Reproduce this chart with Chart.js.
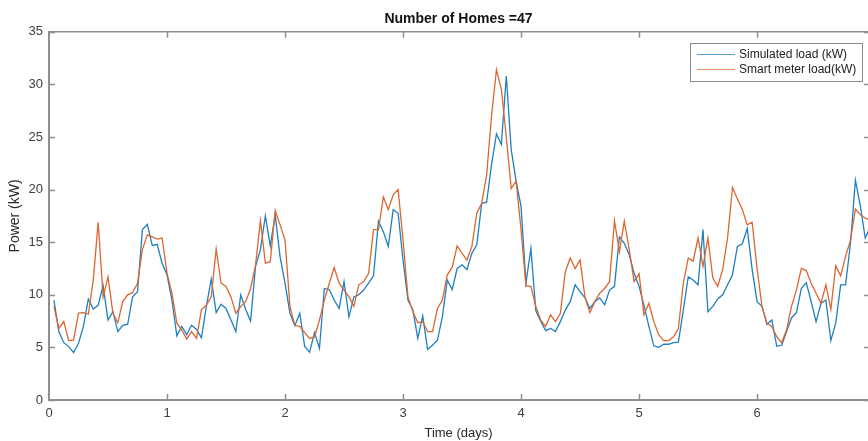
<!DOCTYPE html>
<html>
<head>
<meta charset="utf-8">
<title>Number of Homes =47</title>
<script src="https://cdn.jsdelivr.net/npm/chart.js@4.4.1/dist/chart.umd.min.js"></script>
<style>
  html, body { margin: 0; padding: 0; background: #fff; }
  #wrap { width: 868px; height: 441px; }
</style>
</head>
<body>
<div id="wrap"><canvas id="loadChart" width="868" height="441"></canvas></div>
<script>
// hourly readings over one week (hour 1 .. 167)
const simulatedLoad = [
  9.5, 6.5, 5.45, 5.1, 4.5, 5.4, 7.0, 9.6, 8.65, 9.0, 10.9, 7.6,
  8.4, 6.5, 7.1, 7.2, 9.8, 10.3, 16.2, 16.7, 14.7, 14.8, 13.0, 11.9,
  9.5, 6.1, 7.0, 6.2, 7.1, 6.7, 5.9, 8.9, 11.5, 8.3, 9.1, 8.7,
  7.6, 6.5, 10.0, 8.6, 7.5, 12.7, 14.3, 17.5, 14.65, 17.6, 13.6, 11.1,
  8.25, 7.05, 8.25, 5.1, 4.55, 6.4, 4.9, 10.6, 10.5, 9.5, 8.7, 11.25,
  7.9, 9.8, 10.0, 10.45, 11.1, 11.8, 17.0, 16.0, 14.6, 18.1, 17.75, 13.3,
  9.5, 8.55, 5.85, 8.0, 4.8, 5.2, 5.7, 7.9, 11.4, 10.5, 12.5, 12.85,
  12.4, 13.95, 14.75, 18.7, 18.8, 22.4, 25.3, 24.3, 30.8, 23.8, 20.8, 18.4,
  11.1, 14.4, 8.5, 7.5, 6.6, 6.8, 6.5, 7.45, 8.55, 9.35, 10.95, 10.3,
  9.7, 8.7, 9.35, 9.7, 9.05, 10.45, 10.8, 15.5, 14.9, 13.8, 12.05, 10.8,
  9.0, 7.0, 5.15, 5.0, 5.3, 5.3, 5.45, 5.5, 8.55, 11.7, 11.4, 10.95,
  16.2, 8.4, 8.9, 9.6, 10.0, 10.95, 11.9, 14.6, 14.85, 16.3, 12.4, 9.35,
  8.9, 7.2, 7.6, 5.1, 5.2, 6.5, 7.8, 8.3, 10.6, 11.15, 9.35, 7.45,
  9.2, 9.5, 5.65, 7.3, 10.95, 10.95, 14.9, 20.9, 18.45, 15.4, 16.4
];

const meterLoad = [
  8.9, 6.8, 7.45, 5.65, 5.7, 8.25, 8.3, 8.15, 11.4, 16.9, 9.8, 11.7,
  8.25, 7.35, 9.35, 10.0, 10.2, 11.1, 14.3, 15.7, 15.5, 15.3, 15.4, 12.05,
  10.15, 7.3, 6.65, 5.8, 6.5, 5.85, 8.6, 9.0, 9.8, 14.35, 11.1, 10.8,
  9.8, 8.25, 8.9, 9.35, 10.6, 12.8, 17.05, 13.0, 13.15, 18.0, 16.65, 15.2,
  8.9, 7.1, 7.0, 6.4, 5.85, 6.0, 7.6, 9.5, 11.1, 12.6, 11.1, 10.45,
  9.8, 8.9, 10.95, 11.25, 12.05, 16.2, 16.2, 19.3, 18.1, 19.5, 20.0, 15.2,
  9.8, 8.4, 7.35, 7.45, 6.5, 6.5, 8.7, 9.5, 11.9, 12.6, 14.65, 13.95,
  13.3, 14.6, 17.75, 18.7, 21.4, 27.0, 31.4, 29.5, 25.0, 20.1, 20.8, 16.2,
  10.85, 10.8, 8.9, 7.6, 7.0, 8.1, 7.45, 8.25, 12.2, 13.5, 12.5, 13.3,
  9.8, 8.3, 9.35, 10.15, 10.6, 11.25, 17.05, 14.1, 17.0, 14.3, 11.25, 12.0,
  8.1, 9.2, 7.45, 6.2, 5.65, 5.65, 6.0, 6.8, 11.1, 13.5, 13.2, 15.4,
  12.7, 15.4, 11.6, 10.8, 12.4, 15.4, 20.2, 19.1, 18.1, 16.65, 16.9, 12.5,
  8.9, 7.3, 7.0, 6.0, 5.45, 6.65, 8.9, 10.45, 12.5, 12.3, 11.1, 10.15,
  9.2, 10.95, 8.6, 12.75, 11.8, 13.65, 15.2, 18.15, 17.6, 17.3, 17.1
];

const seriesNames = ['Simulated load (kW)', 'Smart meter load(kW)'];
const seriesColors = ['#1f7fc0', '#dc6630'];
const xTicks = [0, 1, 2, 3, 4, 5, 6];
const yTicks = [0, 5, 10, 15, 20, 25, 30, 35];

const axisColor = '#8f8f8f';
const fontFamily = '"Liberation Sans", Arial, Helvetica, sans-serif';

// hour index -> days
function toPoints(values) {
  return values.map((v, i) => ({ x: (i + 1) / 24, y: v }));
}

// box, inward tick marks and legend drawn the MATLAB way
const matlabFrame = {
  id: 'matlabFrame',
  afterDraw(chart) {
    const { ctx, chartArea: a, scales } = chart;
    const tick = 6;
    ctx.save();
    ctx.strokeStyle = axisColor;
    ctx.lineWidth = 1.5;
    ctx.beginPath();
    ctx.moveTo(a.left, a.top);
    ctx.lineTo(a.right, a.top);
    xTicks.forEach(v => {
      const px = Math.round(scales.x.getPixelForValue(v)) + 0.5;
      if (v === 0) return;
      ctx.moveTo(px, a.bottom);
      ctx.lineTo(px, a.bottom - tick);
      ctx.moveTo(px, a.top);
      ctx.lineTo(px, a.top + tick);
    });
    yTicks.forEach(v => {
      const py = Math.round(scales.y.getPixelForValue(v)) + 0.5;
      ctx.moveTo(a.left, py);
      ctx.lineTo(a.left + tick, py);
      ctx.moveTo(a.right, py);
      ctx.lineTo(a.right - 4, py);
    });
    ctx.stroke();

    // legend
    const lx = 690, ly = 43, lw = 172, lh = 38;
    ctx.fillStyle = '#ffffff';
    ctx.fillRect(lx, ly, lw, lh);
    ctx.strokeStyle = '#8a8a8a';
    ctx.lineWidth = 1;
    ctx.strokeRect(lx + 0.5, ly + 0.5, lw, lh);
    ctx.font = '12px ' + fontFamily;
    ctx.textBaseline = 'middle';
    ctx.textAlign = 'left';
    seriesNames.forEach((name, i) => {
      const y = 54 + i * 15;
      ctx.strokeStyle = seriesColors[i];
      ctx.globalAlpha = 0.75;
      ctx.beginPath();
      ctx.moveTo(697, y + 0.5);
      ctx.lineTo(735, y + 0.5);
      ctx.stroke();
      ctx.globalAlpha = 1;
      ctx.fillStyle = '#222';
      ctx.fillText(name, 739, y + 1);
    });
    ctx.restore();
  }
};

const ctx = document.getElementById('loadChart').getContext('2d');

new Chart(ctx, {
  type: 'line',
  data: {
    datasets: [
      {
        label: seriesNames[0],
        data: toPoints(simulatedLoad),
        borderColor: seriesColors[0],
        borderWidth: 1.3,
        pointRadius: 0,
        tension: 0,
        order: 1
      },
      {
        label: seriesNames[1],
        data: toPoints(meterLoad),
        borderColor: seriesColors[1],
        borderWidth: 1.3,
        pointRadius: 0,
        tension: 0,
        order: 0
      }
    ]
  },
  options: {
    responsive: false,
    animation: false,
    devicePixelRatio: 1,
    layout: { padding: { left: 0, right: 0, top: 0, bottom: 0 } },
    plugins: {
      legend: { display: false },
      tooltip: { enabled: false },
      title: {
        display: true,
        text: 'Number of Homes =47',
        fullSize: false,
        color: '#111',
        font: { family: fontFamily, size: 14, weight: 'bold' },
        padding: { top: 11, bottom: 4 }
      }
    },
    scales: {
      x: {
        type: 'linear',
        min: 0,
        max: 6.94,
        afterBuildTicks(scale) {
          scale.ticks = xTicks.map(v => ({ value: v }));
        },
        afterFit(scale) { scale.height = 41; },
        grid: { display: false, drawTicks: false },
        border: { display: true, color: axisColor, width: 2 },
        ticks: {
          padding: 6,
          maxRotation: 0,
          color: '#404040',
          font: { family: fontFamily, size: 13 }
        },
        title: {
          display: true,
          text: 'Time (days)',
          color: '#262626',
          font: { family: fontFamily, size: 13 },
          padding: { top: 0, bottom: 0 }
        }
      },
      y: {
        min: 0,
        max: 35,
        afterBuildTicks(scale) {
          scale.ticks = yTicks.map(v => ({ value: v }));
        },
        afterFit(scale) { scale.width = 49; },
        grid: { display: false, drawTicks: false },
        border: { display: true, color: axisColor, width: 2 },
        ticks: {
          padding: 6,
          color: '#404040',
          font: { family: fontFamily, size: 13 }
        },
        title: {
          display: true,
          text: 'Power (kW)',
          color: '#262626',
          font: { family: fontFamily, size: 14 },
          padding: { top: 7, bottom: 0 }
        }
      }
    }
  },
  plugins: [matlabFrame]
});
</script>
</body>
</html>
